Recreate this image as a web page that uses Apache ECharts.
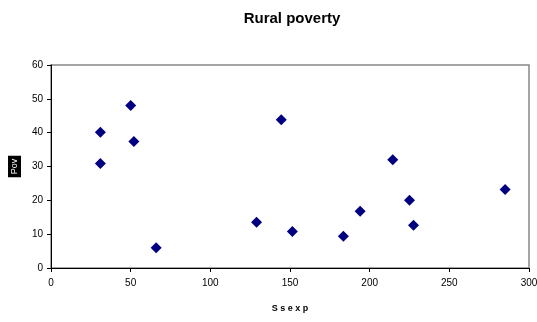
<!DOCTYPE html>
<html><head><meta charset="utf-8">
<script src="https://cdn.jsdelivr.net/npm/echarts@6/dist/echarts.min.js"></script>
<style>html,body{margin:0;padding:0;background:#fff}#c{width:537px;height:322px}</style>
</head><body><div id="c"></div>
<script>
var ssexp = [31, 31, 50, 52, 66, 129, 144.5, 151.5, 183.5, 194, 214.5, 225, 227.5, 285];
var poverty = [40.1, 30.9, 48.0, 37.4, 6.0, 13.5, 43.8, 10.8, 9.4, 16.8, 32.0, 20.0, 12.6, 23.2];
var xTicks = [0, 50, 100, 150, 200, 250, 300];
var yTicks = [0, 10, 20, 30, 40, 50, 60];

var points = ssexp.map(function (x, i) { return [x, poverty[i]]; });
var chart = echarts.init(document.getElementById('c'));
chart.setOption({
  animation: false,
  title: {
    text: 'Rural poverty', left: 287, top: 6, textAlign: 'center',
    textStyle: { fontFamily: 'Liberation Sans, Arial', fontSize: 15, fontWeight: 'bold', color: '#000' }
  },
  grid: { left: 51, right: 8, top: 65, bottom: 54, show: true, borderColor: '#888', borderWidth: 1.5, backgroundColor: '#fff', outerBoundsMode: 'none', containLabel: false },
  xAxis: {
    type: 'value', min: xTicks[0], max: xTicks[xTicks.length - 1], interval: 50,
    name: 'S s e x p', nameLocation: 'middle', nameGap: 36,
    nameTextStyle: { fontFamily: 'Liberation Sans, Arial', fontSize: 9, fontWeight: 'bold', color: '#000' },
    axisLine: { show: true, lineStyle: { color: '#000', width: 1 } },
    axisTick: { show: true, inside: false, length: 4, lineStyle: { color: '#000' } },
    axisLabel: { fontFamily: 'Liberation Sans, Arial', fontSize: 10, color: '#000', margin: 10 },
    splitLine: { show: false }
  },
  yAxis: {
    type: 'value', min: yTicks[0], max: yTicks[yTicks.length - 1], interval: 10,
    name: 'Pov', nameLocation: 'middle', nameGap: 30, nameRotate: 90,
    nameTextStyle: { fontFamily: 'Liberation Sans, Arial', fontSize: 9, color: '#fff', backgroundColor: '#000', padding: [2, 3] },
    axisLine: { show: true, lineStyle: { color: '#000', width: 1 } },
    axisTick: { show: true, inside: false, length: 4, lineStyle: { color: '#000' } },
    axisLabel: { fontFamily: 'Liberation Sans, Arial', fontSize: 10, color: '#000', margin: 8 },
    splitLine: { show: false }
  },
  series: [{
    type: 'scatter', data: points, symbol: 'diamond', symbolSize: 11,
    itemStyle: { color: '#000080', opacity: 1 }
  }]
});
</script></body></html>
